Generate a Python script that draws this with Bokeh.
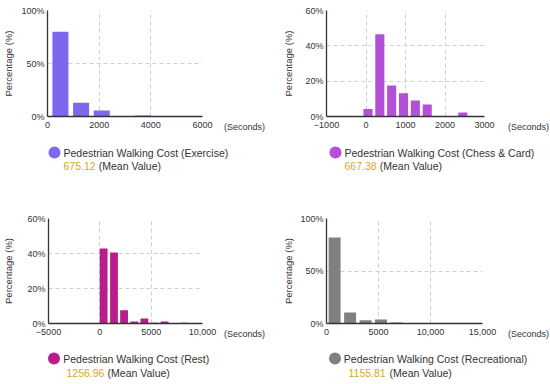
from bokeh.plotting import figure
from bokeh.layouts import column, row
from bokeh.models import Range1d, FixedTicker
from bokeh.core.properties import value
from bokeh.embed import file_html
from bokeh.resources import INLINE

FONT = "Liberation Sans"

# ---------------- data ----------------
ex_x = [500, 1300, 2100, 2900, 3700, 4500, 5300]
ex_pct = [80.0, 13.0, 5.7, 0.2, 1.0, 0.3, 0.3]
ch_x = [50, 350, 650, 950, 1250, 1550, 1850, 2150, 2450]
ch_pct = [4.3, 46.6, 17.5, 13.2, 9.0, 6.8, 0.0, 0.0, 2.3]
re_x = [370, 1380, 2360, 3360, 4340, 5330, 6310, 7290, 8270]
re_pct = [42.8, 40.6, 7.6, 1.1, 2.8, 0.5, 1.1, 0.2, 0.5]
rc_x = [780, 2270, 3760, 5240, 6740]
rc_pct = [82.0, 10.5, 3.1, 3.8, 1.0]

ex_xticks = [0, 2000, 4000, 6000]
ex_xlabels = ["0", "2000", "4000", "6000"]
ch_xticks = [-1000, 0, 1000, 2000, 3000]
ch_xlabels = ["\u22121000", "0", "1000", "2000", "3000"]
re_xticks = [-5000, 0, 5000, 10000]
re_xlabels = ["\u22125000", "0", "5000", "10,000"]
rc_xticks = [0, 5000, 10000, 15000]
rc_xlabels = ["0", "5000", "10,000", "15,000"]

y100_ticks = [0, 50, 100]
y100_labels = ["0%", "50%", "100%"]
y60_ticks = [0, 20, 40, 60]
y60_labels = ["0%", "20%", "40%", "60%"]

names = ["Pedestrian Walking Cost (Exercise)", "Pedestrian Walking Cost (Chess & Card)",
         "Pedestrian Walking Cost (Rest)", "Pedestrian Walking Cost (Recreational)"]
means = ["675.12", "667.38", "1256.96", "1155.81"]
colors = ["#7B68EE", "#B450D8", "#BA1C8D", "#808080"]
unit_label = "(Seconds)"

TEXT = "#333333"
GOLD = "#D4A82A"


def style_axis(ax):
    ax.major_tick_in = 0
    ax.major_tick_out = 0
    ax.minor_tick_in = 0
    ax.minor_tick_out = 0
    ax.major_label_text_font = FONT
    ax.major_label_text_font_size = "9px"
    ax.major_label_text_color = TEXT


def chart(w, h, bl, br, bt, bb, xr, yr, xticks, xlabels, yticks, ylabels,
          xs, ys, bw, color, ystand):
    p = figure(width=w, height=h, x_range=Range1d(*xr), y_range=Range1d(*yr),
               output_backend="svg", toolbar_location=None,
               min_border_left=bl, min_border_right=br, min_border_top=bt,
               min_border_bottom=bb, background_fill_color="white",
               border_fill_color="white")
    p.outline_line_color = None
    p.vbar(x=xs, top=ys, bottom=0, width=bw, fill_color=color, line_color=None)
    for ax in (p.xaxis[0], p.yaxis[0]):
        style_axis(ax)
        ax.axis_line_color = "#333333"
        ax.axis_line_width = 1.3
    p.xaxis.ticker = FixedTicker(ticks=xticks)
    p.xaxis.major_label_overrides = {t: s for t, s in zip(xticks, xlabels)}
    p.xaxis.major_label_standoff = 5
    p.yaxis.ticker = FixedTicker(ticks=yticks)
    p.yaxis.major_label_overrides = {t: s for t, s in zip(yticks, ylabels)}
    p.yaxis.major_label_standoff = 3
    p.yaxis.axis_label = "Percentage (%)"
    p.yaxis.axis_label_text_font = FONT
    p.yaxis.axis_label_text_font_size = "9.5px"
    p.yaxis.axis_label_text_font_style = "normal"
    p.yaxis.axis_label_text_color = TEXT
    p.yaxis.axis_label_standoff = ystand
    p.xgrid.ticker = FixedTicker(ticks=xticks)
    p.ygrid.ticker = FixedTicker(ticks=yticks)
    for g in (p.xgrid[0], p.ygrid[0]):
        g.grid_line_color = "#cfcfcf"
        g.grid_line_dash = "4 3"
        g.grid_line_width = 1
    return p


def blank(w, h, x_axis=None):
    p = figure(width=w, height=h, x_range=Range1d(0, w), y_range=Range1d(h, 0),
               output_backend="svg", toolbar_location=None,
               x_axis_type=x_axis, y_axis_type=None,
               min_border_left=0, min_border_right=0, min_border_top=0,
               min_border_bottom=0, background_fill_color="white",
               border_fill_color="white")
    p.outline_line_color = None
    p.grid.visible = False
    return p


def unit_fig(w, h):
    # the unit text is drawn as the tick label of an axis-line-less x axis,
    # so that it sits on the same line as the neighbouring chart's tick labels
    p = blank(w, h, x_axis="linear")
    ax = p.xaxis[0]
    style_axis(ax)
    ax.axis_line_color = None
    ax.ticker = FixedTicker(ticks=[21])
    ax.major_label_overrides = {21: unit_label}
    ax.major_label_standoff = 5
    return p


def digit_width(s, size):
    wtab = {".": 0.278}
    return sum(wtab.get(c, 0.556) for c in s) * size


def legend_fig(w, h, cx, cy, tx, ty, t2x, t2y, name, mean, color):
    p = blank(w, h)
    p.scatter(x=[cx], y=[cy], size=12, marker="circle", fill_color=color,
              line_color=None)
    fs = 10.5
    p.text(x=[tx], y=[ty], text=[name], text_font=value(FONT),
           text_font_size=f"{fs}px", text_color=TEXT,
           text_baseline="middle", text_align="left")
    p.text(x=[t2x], y=[t2y], text=[mean], text_font=value(FONT),
           text_font_size=f"{fs}px", text_color=GOLD,
           text_baseline="middle", text_align="left")
    p.text(x=[t2x + digit_width(mean, fs) + 0.3 * fs], y=[t2y],
           text=["(Mean Value)"], text_font=value(FONT),
           text_font_size=f"{fs}px", text_color=TEXT,
           text_baseline="middle", text_align="left")
    return p


# row 1: charts (height 134)
tl = chart(223, 134, 44, 21, 10, 18, (0, 6000), (0, 100), ex_xticks, ex_xlabels,
           y100_ticks, y100_labels, ex_x, ex_pct, 620, colors[0], 4)
tl_u = unit_fig(52, 134)
tr = chart(232, 134, 51, 23, 10, 18, (-1000, 3000), (0, 60), ch_xticks, ch_xlabels,
           y60_ticks, y60_labels, ch_x, ch_pct, 230, colors[1], 8)
tr_u = unit_fig(43, 134)

# row 2: legends (height 61)
ltl = legend_fig(275, 61, 54, 18, 63, 18, 63, 31, names[0], means[0], colors[0])
ltr = legend_fig(275, 61, 60, 18, 69, 18, 69, 31, names[1], means[1], colors[1])

# row 3: charts (height 146)
bl = chart(223, 146, 44, 21, 22, 18, (-5000, 10000), (0, 60), re_xticks, re_xlabels,
           y60_ticks, y60_labels, re_x, re_pct, 760, colors[2], 10)
bl_u = unit_fig(52, 146)
br = chart(232, 146, 51, 25, 23, 18, (0, 15000), (0, 100), rc_xticks, rc_xlabels,
           y100_ticks, y100_labels, rc_x, rc_pct, 1150, colors[3], 3)
br_u = unit_fig(43, 146)

# row 4: legends (height 43)
lbl = legend_fig(275, 43, 53.5, 17, 62.7, 17, 66, 31, names[2], means[2], colors[2])
lbr = legend_fig(275, 43, 59.5, 17, 68.3, 17, 73, 31, names[3], means[3], colors[3])

layout = column(row(tl, tl_u, tr, tr_u), row(ltl, ltr),
                row(bl, bl_u, br, br_u), row(lbl, lbr))

open("out.html", "w").write(file_html(layout, INLINE))
